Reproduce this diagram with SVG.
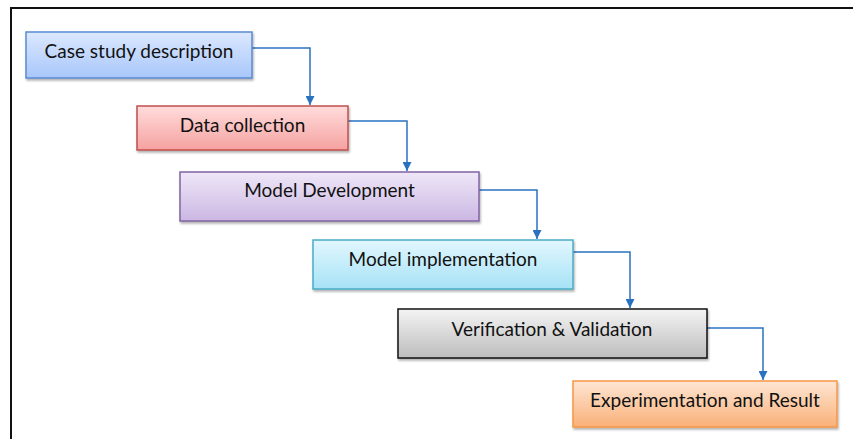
<svg xmlns="http://www.w3.org/2000/svg" width="853" height="439" viewBox="0 0 853 439">
<defs>
<style>
.lbl{font-family:Lato,"Liberation Sans",Arial,sans-serif;font-size:19px;fill:#111;text-anchor:middle}
.box{stroke-width:1.5}
.conn{fill:none;stroke:#2a72c0;stroke-width:1.5}
</style>
<linearGradient id="gBlue" x1="0" y1="0" x2="0" y2="1"><stop offset="0" stop-color="#dce8ff"/><stop offset="1" stop-color="#a8c7fa"/></linearGradient>
<linearGradient id="gRed" x1="0" y1="0" x2="0" y2="1"><stop offset="0" stop-color="#ffdcdc"/><stop offset="1" stop-color="#f5a2a0"/></linearGradient>
<linearGradient id="gPur" x1="0" y1="0" x2="0" y2="1"><stop offset="0" stop-color="#efe7f8"/><stop offset="1" stop-color="#cbb7e3"/></linearGradient>
<linearGradient id="gCyan" x1="0" y1="0" x2="0" y2="1"><stop offset="0" stop-color="#e2f7fe"/><stop offset="1" stop-color="#a6e2f6"/></linearGradient>
<linearGradient id="gGray" x1="0" y1="0" x2="0" y2="1"><stop offset="0" stop-color="#f4f4f4"/><stop offset="1" stop-color="#bdbdbd"/></linearGradient>
<linearGradient id="gOr" x1="0" y1="0" x2="0" y2="1"><stop offset="0" stop-color="#fee6d4"/><stop offset="1" stop-color="#f9b078"/></linearGradient>
<filter id="sh" x="-5%" y="-10%" width="110%" height="130%"><feDropShadow dx="1" dy="2" stdDeviation="1.2" flood-color="#000" flood-opacity="0.3"/></filter>
<marker id="arr" viewBox="0 0 10 10" refX="10" refY="5" markerWidth="6.5" markerHeight="6" orient="auto" markerUnits="strokeWidth"><path d="M0,0 L10,5 L0,10 z" fill="#2a72c0"/></marker>
</defs>
<rect width="853" height="439" fill="#fff"/>
<g id="frame"><path d="M11,439 L11,8 L853,8" fill="none" stroke="#111" stroke-width="2"/></g>
<g id="connectors">
<path class="conn" d="M252,48 H310 V105" marker-end="url(#arr)"/>
<path class="conn" d="M348,121 H407 V171" marker-end="url(#arr)"/>
<path class="conn" d="M479,190 H537 V239" marker-end="url(#arr)"/>
<path class="conn" d="M573,252 H630 V308" marker-end="url(#arr)"/>
<path class="conn" d="M707,328 H763 V380" marker-end="url(#arr)"/>
</g>
<g id="n1"><rect class="box" x="26" y="32" width="226" height="46" fill="url(#gBlue)" stroke="#5a8ad2" filter="url(#sh)"/><text class="lbl" x="139" y="57.5">Case study description</text></g>
<g id="n2"><rect class="box" x="137" y="106" width="211" height="44" fill="url(#gRed)" stroke="#c0504d" filter="url(#sh)"/><text class="lbl" x="242.5" y="132">Data collection</text></g>
<g id="n3"><rect class="box" x="180" y="172" width="299" height="49" fill="url(#gPur)" stroke="#8064a2" filter="url(#sh)"/><text class="lbl" x="329.5" y="197">Model Development</text></g>
<g id="n4"><rect class="box" x="313" y="240" width="260" height="49" fill="url(#gCyan)" stroke="#4bacc6" filter="url(#sh)"/><text class="lbl" x="443" y="265.5">Model implementation</text></g>
<g id="n5"><rect class="box" x="398" y="309" width="309" height="49" fill="url(#gGray)" stroke="#111" filter="url(#sh)"/><text class="lbl" x="552" y="335.5">Verification &amp; Validation</text></g>
<g id="n6"><rect class="box" x="573" y="381" width="264" height="46" fill="url(#gOr)" stroke="#f79646" filter="url(#sh)"/><text class="lbl" x="705" y="406.5">Experimentation and Result</text></g>
</svg>
